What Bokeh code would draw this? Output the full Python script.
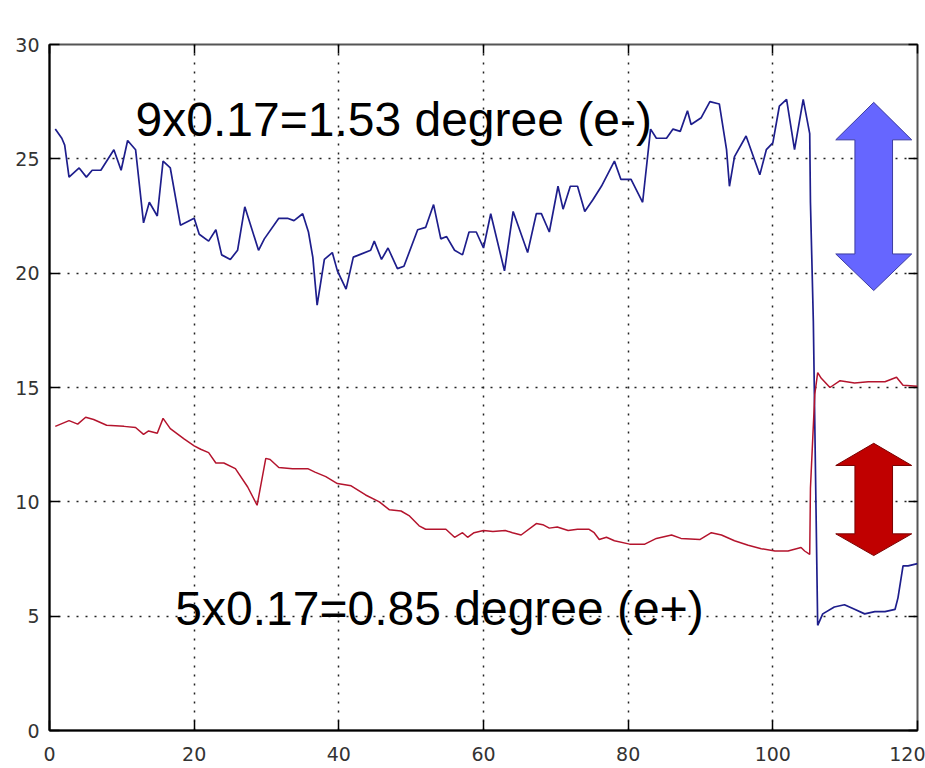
from bokeh.plotting import figure
from bokeh.models import Range1d, LinearAxis, FixedTicker, CustomJSTickFormatter, Label
from bokeh.embed import file_html
from bokeh.resources import INLINE

# ---- data ----
x_ticks = [0, 20, 40, 60, 80, 100, 120]
y_ticks = [0, 5, 10, 15, 20, 25, 30]

blue_x = [0.8, 1.7, 2.1, 2.7, 4.1, 5.1, 5.9, 7.1, 8.9, 9.9, 10.8, 11.9, 13.0, 13.8, 14.9, 15.7,
          16.7, 18.1, 20.0, 20.7, 22.0, 23.0, 23.8, 25.0, 26.0, 27.0, 28.9, 29.7, 31.7, 32.9,
          33.8, 35.0, 35.8, 36.4, 37.0, 38.0, 39.1, 39.8, 41.0, 42.0, 42.8, 44.4, 44.9, 45.9,
          46.8, 48.1, 49.0, 50.9, 52.0, 53.1, 54.1, 54.9, 56.0, 57.1, 58.0, 59.0, 60.0, 61.0,
          62.9, 64.1, 66.1, 67.3, 68.0, 69.1, 70.3, 71.0, 72.0, 73.0, 74.0, 75.1, 76.3, 78.1,
          79.0, 80.4, 82.0, 83.1, 83.9, 85.3, 86.2, 87.2, 88.2, 88.7, 90.1, 91.3, 92.6, 93.6,
          94.0, 94.7, 96.3, 98.2, 99.1, 100.0, 100.9, 101.9, 103.0, 104.2, 105.1, 105.2, 105.6,
          106.2, 106.9, 108.5, 109.9, 111.3, 112.7, 114.1, 115.5, 116.9, 117.3, 118.0, 118.7, 120.0]
blue_y = [26.3, 25.9, 25.6, 24.2, 24.6, 24.2, 24.5, 24.5, 25.4, 24.5, 25.8, 25.4, 22.2, 23.1, 22.5, 24.9,
          24.6, 22.1, 22.4, 21.7, 21.4, 21.9, 20.8, 20.6, 21.0, 22.9, 21.0, 21.5, 22.4, 22.4,
          22.3, 22.6, 21.8, 20.7, 18.6, 20.6, 20.9, 20.1, 19.3, 20.7, 20.8, 21.0, 21.4, 20.6,
          21.1, 20.2, 20.3, 21.9, 22.0, 23.0, 21.5, 21.6, 21.0, 20.8, 21.8, 21.8, 21.1, 22.6,
          20.1, 22.7, 20.9, 22.6, 22.6, 21.8, 23.8, 22.8, 23.8, 23.8, 22.7, 23.2, 23.8, 24.9,
          24.1, 24.1, 23.1, 26.3, 25.9, 25.9, 26.3, 26.2, 27.1, 26.5, 26.8, 27.5, 27.4, 25.4,
          23.8, 25.1, 26.0, 24.3, 25.4, 25.7, 27.3, 27.6, 25.4, 27.6, 26.1, 23.1, 17.9,
          4.6, 5.1, 5.4, 5.5, 5.3, 5.1, 5.2, 5.2, 5.3, 5.8, 7.2, 7.2, 7.3]

red_x = [0.8, 2.7, 3.9, 5.0, 6.1, 7.9, 10.3, 11.9, 13.0, 13.7, 14.9, 15.7, 16.7, 18.6, 20.0, 20.9,
         22.0, 23.0, 24.1, 25.7, 27.4, 28.7, 29.9, 30.5, 31.7, 33.6, 35.7, 36.7, 38.2, 39.8,
         41.7, 43.7, 45.6, 47.0, 48.6, 49.7, 51.1, 52.0, 54.8, 56.0, 57.1, 57.8, 58.7, 60.0,
         61.3, 63.0, 64.0, 65.2, 67.3, 68.2, 69.1, 70.2, 71.7, 73.0, 74.6, 75.3, 76.0, 77.0,
         78.1, 80.2, 82.3, 83.9, 86.0, 87.3, 89.9, 91.5, 92.9, 94.7, 96.6, 98.4, 100.3, 102.1,
         103.9, 104.4, 105.1, 105.2, 105.8, 106.2, 106.7, 107.9, 109.3, 111.3, 113.2, 115.5,
         117.1, 118.0, 120.0]
red_y = [13.3, 13.55, 13.4, 13.7, 13.6, 13.35, 13.3, 13.25, 12.95, 13.1, 13.0, 13.65, 13.2, 12.75, 12.45, 12.3,
         12.15, 11.7, 11.7, 11.45, 10.65, 9.85, 11.9, 11.85, 11.5, 11.45, 11.45, 11.3, 11.1, 10.8,
         10.7, 10.3, 10.0, 9.65, 9.6, 9.4, 8.95, 8.8, 8.8, 8.45, 8.65, 8.45, 8.65, 8.75,
         8.7, 8.75, 8.65, 8.55, 9.05, 9.0, 8.85, 8.9, 8.75, 8.8, 8.8, 8.65, 8.35, 8.45,
         8.3, 8.15, 8.15, 8.4, 8.55, 8.4, 8.35, 8.65, 8.55, 8.3, 8.1, 7.95, 7.85, 7.85,
         8.0, 7.85, 7.7, 10.6, 14.7, 15.65, 15.4, 15.0, 15.3, 15.2, 15.25, 15.25,
         15.45, 15.1, 15.05]

label_top = "9x0.17=1.53 degree (e-)"
label_bottom = "5x0.17=0.85 degree (e+)"

# double arrows: (center x, top tip, head base top, head base bottom, bottom tip)
arrow_blue = (113.95, 27.47, 25.83, 20.84, 19.24)
arrow_red = (113.95, 12.56, 11.59, 8.60, 7.65)
head_half = 5.25
shaft_half = 2.6


def arrow_poly(a):
    cx, top, hbt, hbb, bot = a
    xs = [cx, cx + head_half, cx + shaft_half, cx + shaft_half, cx + head_half, cx,
          cx - head_half, cx - shaft_half, cx - shaft_half, cx - head_half]
    ys = [top, hbt, hbt, hbb, hbb, bot, hbb, hbb, hbt, hbt]
    return xs, ys


p = figure(width=925, height=768, x_range=Range1d(0, 120), y_range=Range1d(0, 30),
           output_backend="svg", toolbar_location=None,
           min_border_left=49, min_border_right=8, min_border_top=44, min_border_bottom=38)

p.background_fill_color = "white"
p.border_fill_color = "white"
p.outline_line_color = "#555555"
p.outline_line_width = 2

for ax, ticks, standoff in ((p.xaxis[0], x_ticks, 16), (p.yaxis[0], y_ticks, 10)):
    ax.ticker = FixedTicker(ticks=ticks)
    ax.major_tick_in = 10
    ax.major_tick_out = 0
    ax.minor_tick_in = 0
    ax.minor_tick_out = 0
    ax.axis_line_color = "black"
    ax.axis_line_width = 2
    ax.major_tick_line_color = "black"
    ax.major_tick_line_width = 1.5
    ax.major_label_text_font = "DejaVu Sans"
    ax.major_label_text_font_size = "19px"
    ax.major_label_text_color = "#333333"
    ax.major_label_standoff = standoff

for loc, ticks in (("above", x_ticks), ("right", y_ticks)):
    ax = LinearAxis(ticker=FixedTicker(ticks=ticks),
                    formatter=CustomJSTickFormatter(code="return ''"),
                    major_tick_in=9, major_tick_out=0, minor_tick_in=0, minor_tick_out=0,
                    axis_line_color=None, major_tick_line_color="black",
                    major_tick_line_width=1.5, major_label_standoff=0)
    p.add_layout(ax, loc)

p.xgrid.ticker = FixedTicker(ticks=x_ticks)
p.ygrid.ticker = FixedTicker(ticks=y_ticks)
for g in (p.xgrid[0], p.ygrid[0]):
    g.grid_line_color = "#222222"
    g.grid_line_dash = "2 7"
    g.grid_line_width = 1.5
    g.grid_line_alpha = 1.0

p.line(blue_x, blue_y, line_color="#1e1e8c", line_width=1.7)
p.line(red_x, red_y, line_color="#b4142d", line_width=1.5)

bx, by = arrow_poly(arrow_blue)
rx, ry = arrow_poly(arrow_red)
p.patch(bx, by, fill_color="#6666ff", line_color="#3c3ca0", line_width=1)
p.patch(rx, ry, fill_color="#c00000", line_color="#7a0000", line_width=1)

p.add_layout(Label(x=11.9, y=26.7, text=label_top, text_font="Liberation Sans",
                   text_font_size="48px", text_color="black", text_baseline="alphabetic"))
p.add_layout(Label(x=17.4, y=5.32, text=label_bottom, text_font="Liberation Sans",
                   text_font_size="48px", text_color="black", text_baseline="alphabetic"))

open("out.html", "w").write(file_html(p, INLINE))
